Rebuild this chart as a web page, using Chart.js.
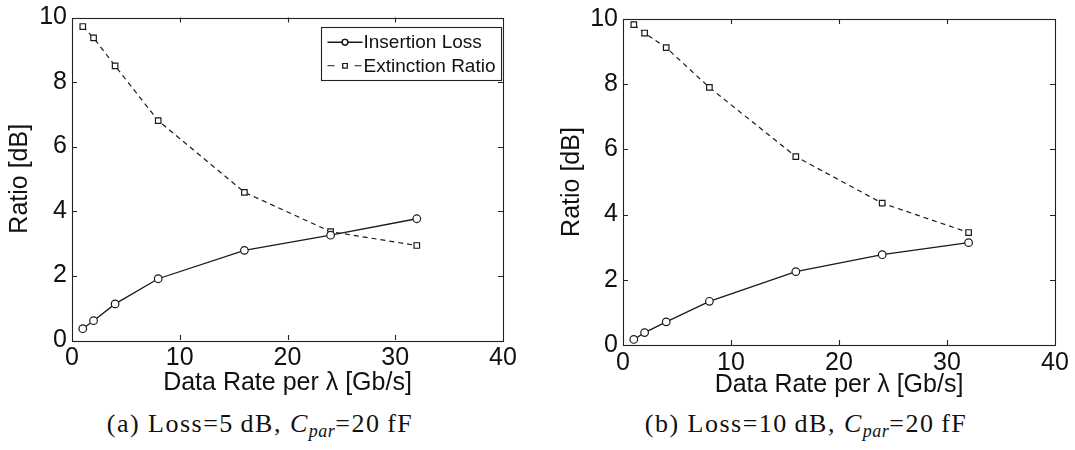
<!DOCTYPE html>
<html>
<head>
<meta charset="utf-8">
<script src="https://cdn.jsdelivr.net/npm/chart.js@4.4.1/dist/chart.umd.min.js"></script>
<style>
html,body{margin:0;padding:0;background:#fff;width:1075px;height:450px;overflow:hidden;}
.wrap{position:absolute;top:0;height:400px;}
#wa{left:0;width:540px;}
#wb{left:540px;width:535px;}
.cap{position:absolute;top:409px;font-family:"Liberation Serif","Times New Roman",serif;font-size:26px;letter-spacing:1.5px;color:#111;white-space:nowrap;transform:translateX(-50%);line-height:30px;}
.cap sub{font-size:18px;vertical-align:-5px;line-height:0;letter-spacing:0.5px;}
</style>
</head>
<body>
<div class="wrap" id="wa"><canvas id="ca"></canvas></div>
<div class="wrap" id="wb"><canvas id="cb"></canvas></div>
<div class="cap" style="left:260px;">(a) Loss=5&#8201;dB, <i>C</i><sub><i>par</i></sub>=20&#8201;fF</div>
<div class="cap" style="left:806px;">(b) Loss=10&#8201;dB, <i>C</i><sub><i>par</i></sub>=20&#8201;fF</div>
<script>
// ---- data ----
const dataRates = [1, 2, 4, 8, 16, 24, 32];
const insertionLossA = [0.35, 0.6, 1.12, 1.9, 2.78, 3.25, 3.76];
const extinctionRatioA = [9.72, 9.37, 8.5, 6.8, 4.58, 3.36, 2.93];
const insertionLossB = [0.17, 0.38, 0.71, 1.34, 2.25, 2.77, 3.14];
const extinctionRatioB = [9.83, 9.57, 9.12, 7.9, 5.78, 4.35, 3.45];
const seriesLabels = ['Insertion Loss', 'Extinction Ratio'];
const xAxisTitle = 'Data Rate per \u03bb [Gb/s]';
const yAxisTitle = 'Ratio [dB]';
const xRange = [0, 40, 10];
const yRange = [0, 10, 2];

const INK = '#111';
const SANS = '"Liberation Sans", Arial, Helvetica, sans-serif';
Chart.defaults.font.family = SANS;
Chart.defaults.color = INK;

const framePlugin = {
  id: 'frameTicks',
  afterDatasetsDraw(chart) {
    const {ctx, chartArea: a, scales} = chart;
    const tl = 5;
    ctx.save();
    ctx.strokeStyle = '#222';
    ctx.lineWidth = 1.1;
    ctx.setLineDash([]);
    ctx.strokeRect(Math.round(a.left) + 0.5, Math.round(a.top) + 0.5, Math.round(a.right - a.left), Math.round(a.bottom - a.top));
    ctx.beginPath();
    scales.x.ticks.forEach(t => {
      if (t.value <= scales.x.min || t.value >= scales.x.max) return;
      const px = Math.round(scales.x.getPixelForValue(t.value)) + 0.5;
      ctx.moveTo(px, a.bottom); ctx.lineTo(px, a.bottom - tl);
      ctx.moveTo(px, a.top); ctx.lineTo(px, a.top + tl);
    });
    scales.y.ticks.forEach(t => {
      if (t.value <= scales.y.min || t.value >= scales.y.max) return;
      const py = Math.round(scales.y.getPixelForValue(t.value)) + 0.5;
      ctx.moveTo(a.left, py); ctx.lineTo(a.left + tl, py);
      ctx.moveTo(a.right, py); ctx.lineTo(a.right - tl, py);
    });
    ctx.stroke();
    ctx.restore();
  }
};

const boxLegendPlugin = {
  id: 'boxLegend',
  afterDraw(chart, args, opts) {
    if (!opts || !opts.display) return;
    const {ctx, chartArea: a} = chart;
    const ds = chart.data.datasets;
    ctx.save();
    ctx.font = '19px ' + SANS;
    let maxW = 0;
    ds.forEach(d => { maxW = Math.max(maxW, ctx.measureText(d.label).width); });
    const sample = 42, rowH = 23.5, padY = 3;
    const w = sample + maxW + 6;
    const h = padY * 2 + rowH * ds.length;
    const x0 = Math.round(a.right - opts.right - w) + 0.5;
    const y0 = Math.round(a.top + opts.top) + 0.5;
    ctx.fillStyle = '#fff';
    ctx.fillRect(x0, y0, w, h);
    ctx.strokeStyle = '#222';
    ctx.lineWidth = 1.1;
    ctx.strokeRect(x0, y0, w, h);
    ds.forEach((d, i) => {
      const cy = y0 + padY + rowH * (i + 0.5);
      ctx.strokeStyle = d.borderColor;
      ctx.lineWidth = d.borderWidth;
      ctx.setLineDash(d.borderDash && d.borderDash.length ? [7, 20] : []);
      ctx.beginPath();
      ctx.moveTo(x0 + 6, cy); ctx.lineTo(x0 + 41, cy);
      ctx.stroke();
      ctx.setLineDash([]);
      Chart.helpers.drawPoint(ctx, {
        pointStyle: d.pointStyle, radius: d.pointStyle === 'circle' ? 2.8 : 3.2,
        borderWidth: 1, rotation: 0
      }, x0 + 23.5, cy);
      ctx.fillStyle = '#fff';
      ctx.fill();
      ctx.stroke();
      ctx.fillStyle = INK;
      ctx.textBaseline = 'middle';
      ctx.textAlign = 'left';
      ctx.fillText(d.label, x0 + sample, cy + 1);
    });
    ctx.restore();
  }
};

function makeChart(id, ins, ext, g, showLegend) {
  const pts = arr => dataRates.map((x, i) => ({x: x, y: arr[i]}));
  return new Chart(document.getElementById(id), {
    type: 'line',
    data: {
      datasets: [
        {label: seriesLabels[0], data: pts(ins), borderColor: '#1a1a1a', borderWidth: 1.3,
         pointStyle: 'circle', pointRadius: 3.8, pointBorderWidth: 1.2,
         pointBorderColor: '#1a1a1a', pointBackgroundColor: '#fff', tension: 0, fill: false},
        {label: seriesLabels[1], data: pts(ext), borderColor: '#1a1a1a', borderWidth: 1.2, borderDash: [5, 4],
         pointStyle: 'rect', pointRadius: 3.9, pointBorderWidth: 1.2,
         pointBorderColor: '#1a1a1a', pointBackgroundColor: '#fff', tension: 0, fill: false}
      ]
    },
    options: {
      responsive: true,
      maintainAspectRatio: false,
      animation: false,
      layout: {padding: {left: 0, top: g.top, right: g.right, bottom: 0}},
      plugins: {
        legend: {display: false},
        tooltip: {enabled: false},
        boxLegend: {display: showLegend, right: 2, top: 9}
      },
      scales: {
        x: {
          type: 'linear', min: xRange[0], max: xRange[1],
          ticks: {stepSize: xRange[2], padding: 6, maxRotation: 0, color: INK,
                  font: {size: 25, lineHeight: 1}},
          grid: {display: false, drawTicks: false},
          border: {display: false},
          title: {display: true, text: xAxisTitle, color: INK, font: {size: 25, lineHeight: 1.2},
                  padding: {top: 0, bottom: g.xTitlePad}},
          afterFit(s) { s.height = g.h - g.bottom; }
        },
        y: {
          min: yRange[0], max: yRange[1],
          ticks: {stepSize: yRange[2], padding: 5, color: INK, font: {size: 25, lineHeight: 1}},
          grid: {display: false, drawTicks: false},
          border: {display: false},
          title: {display: true, text: yAxisTitle, color: INK, font: {size: 25, lineHeight: 1.2},
                  padding: {top: g.yTitlePad, bottom: 0}},
          afterFit(s) { s.width = g.left; }
        }
      }
    },
    plugins: [framePlugin, boxLegendPlugin]
  });
}

makeChart('ca', insertionLossA, extinctionRatioA,
  {left: 72, right: 37, top: 13, bottom: 340, h: 400, xTitlePad: 2, yTitlePad: 5}, true);
makeChart('cb', insertionLossB, extinctionRatioB,
  {left: 83, right: 20, top: 19, bottom: 345, h: 400, xTitlePad: 0, yTitlePad: 17}, false);
</script>
</body>
</html>
